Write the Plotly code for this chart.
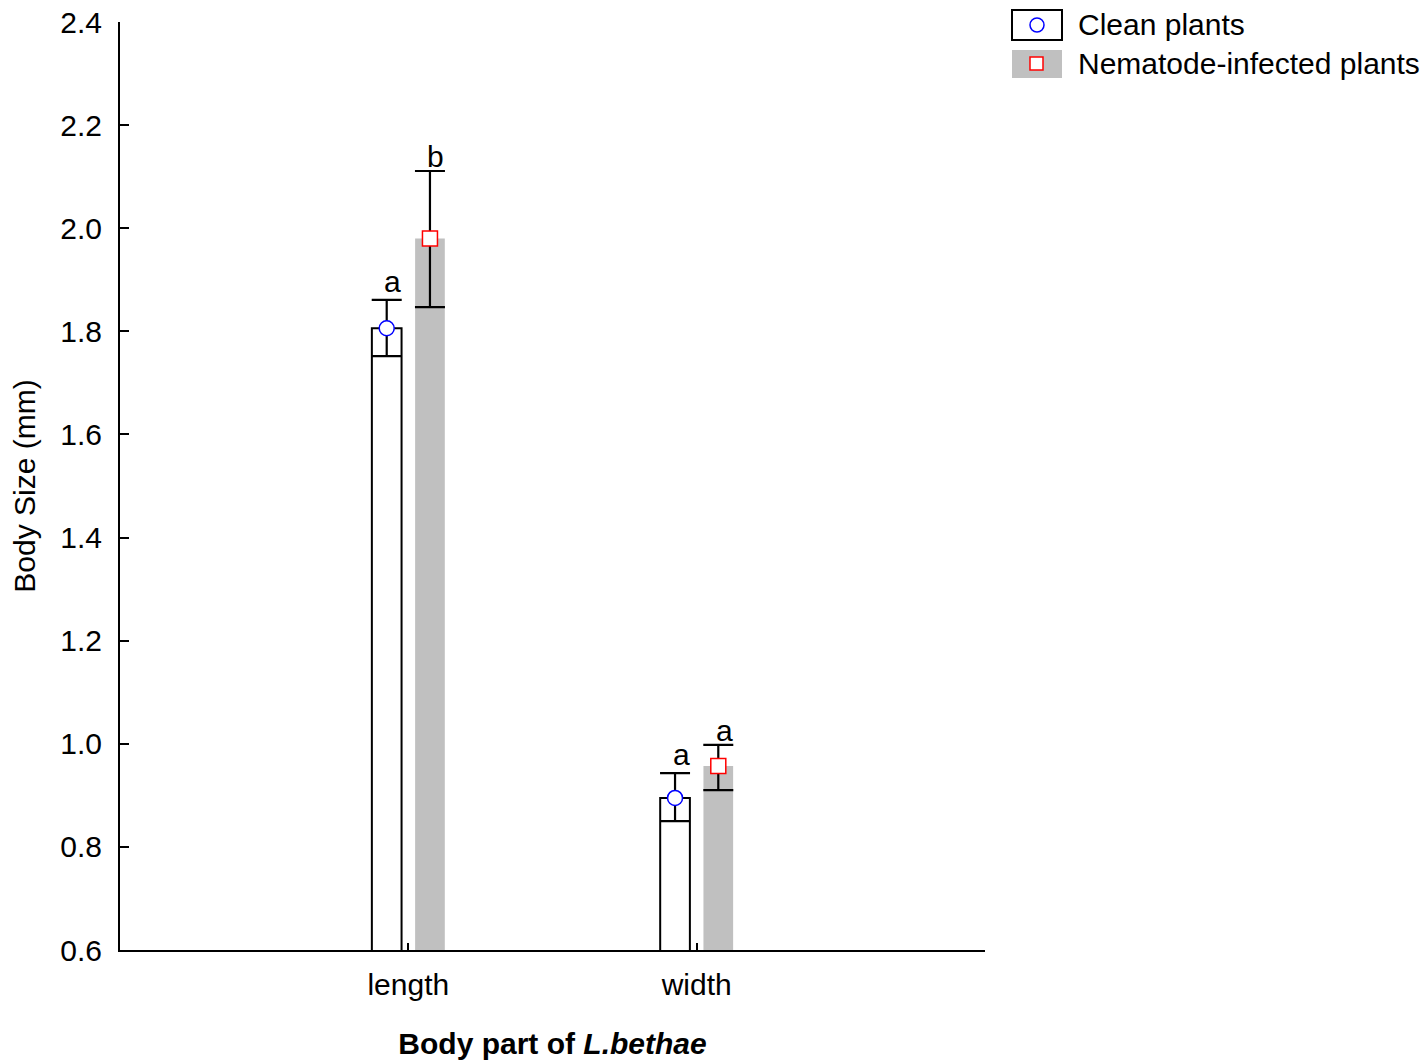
import plotly.graph_objects as go

# ---- data ----
categories = ["length", "width"]
series_names = ["Clean plants", "Nematode-infected plants"]
clean_mean = [1.806, 0.895]
clean_upper = [1.861, 0.943]
clean_lower = [1.752, 0.850]
infected_mean = [1.980, 0.957]
infected_upper = [2.111, 0.998]
infected_lower = [1.847, 0.910]
clean_letters = ["a", "a"]
infected_letters = ["b", "a"]
y_ticks = [0.6, 0.8, 1.0, 1.2, 1.4, 1.6, 1.8, 2.0, 2.2, 2.4]

FONT = "Liberation Sans, Arial, sans-serif"
FS = 30
cat_idx = list(range(len(categories)))
OFF = 0.075
BW = 0.103

series = [
    dict(name=series_names[0], mean=clean_mean, up=clean_upper, lo=clean_lower,
         letters=clean_letters, off=-OFF, fill="white", line=2, lcol="black",
         sym="circle", mcol="blue", yshift=0),
    dict(name=series_names[1], mean=infected_mean, up=infected_upper, lo=infected_lower,
         letters=infected_letters, off=OFF, fill="#c0c0c0", line=0, lcol="#c0c0c0",
         sym="square", mcol="red", yshift=-4),
]

fig = go.Figure()
for s in series:
    xs = [i + s["off"] for i in cat_idx]
    fig.add_trace(go.Bar(x=xs, y=s["mean"], width=BW, name=s["name"],
                         marker=dict(color=s["fill"], line=dict(color=s["lcol"], width=s["line"])),
                         showlegend=False))
for s in series:
    xs = [i + s["off"] for i in cat_idx]
    fig.add_trace(go.Scatter(
        x=xs, y=s["mean"], mode="markers", showlegend=False,
        marker=dict(symbol=s["sym"], size=15, color="white", line=dict(color=s["mcol"], width=1.5)),
        error_y=dict(type="data", symmetric=False,
                     array=[u - m for u, m in zip(s["up"], s["mean"])],
                     arrayminus=[m - l for m, l in zip(s["mean"], s["lo"])],
                     color="black", thickness=2.2, width=15)))
    for x, u, t in zip(xs, s["up"], s["letters"]):
        fig.add_annotation(x=x, y=u, text=t, showarrow=False, xanchor="center", yanchor="bottom",
                           xshift=6, yshift=s["yshift"], font=dict(family=FONT, size=FS, color="black"))

# manual legend
def px2paper(px, py):
    return (px - 120) / 865, (950 - py) / 928

x0, y0 = px2paper(1012, 10); x1, y1 = px2paper(1062, 40)
fig.add_shape(type="rect", xref="paper", yref="paper", x0=x0, x1=x1, y0=y1, y1=y0,
              line=dict(color="black", width=2), fillcolor="white")
x0, y0 = px2paper(1012, 50); x1, y1 = px2paper(1062, 78)
fig.add_shape(type="rect", xref="paper", yref="paper", x0=x0, x1=x1, y0=y1, y1=y0,
              line=dict(width=0), fillcolor="#c0c0c0")
cx0, cy0 = px2paper(1030, 18); cx1, cy1 = px2paper(1044, 32)
fig.add_shape(type="circle", xref="paper", yref="paper", x0=cx0, x1=cx1, y0=cy1, y1=cy0,
              line=dict(color="blue", width=1.5), fillcolor="white")
sx0, sy0 = px2paper(1030, 57); sx1, sy1 = px2paper(1043, 70)
fig.add_shape(type="rect", xref="paper", yref="paper", x0=sx0, x1=sx1, y0=sy1, y1=sy0,
              line=dict(color="red", width=1.5), fillcolor="white")
for name, py in zip(series_names, [25, 63]):
    tx, ty = px2paper(1076, py)
    fig.add_annotation(xref="paper", yref="paper", x=tx, y=ty, text=name, showarrow=False,
                       xanchor="left", yanchor="middle", font=dict(family=FONT, size=FS, color="black"))

fig.update_layout(
    width=1420, height=1062,
    margin=dict(l=120, r=435, t=22, b=112, pad=0),
    plot_bgcolor="white", paper_bgcolor="white",
    font=dict(family=FONT, size=FS, color="black"),
    barmode="overlay",
    xaxis=dict(range=[-1, 2], tickvals=[0, 1, 2], ticktext=categories + [""],
               ticks="inside", ticklen=7, tickwidth=2, tickcolor="black",
               showline=True, linecolor="black", linewidth=2, showgrid=False, zeroline=False,
               ticklabelstandoff=7,
               title=dict(text="<b>Body part of <i>L.bethae</i></b>", font=dict(size=30), standoff=33),
               automargin=False),
    yaxis=dict(range=[0.6, 2.4], tickvals=y_ticks, tickformat=".1f",
               ticks="inside", ticklen=9, tickwidth=2, tickcolor="black",
               showline=True, linecolor="black", linewidth=2, showgrid=False, zeroline=False,
               ticklabelstandoff=10,
               title=dict(text="Body Size (mm)", font=dict(size=30), standoff=16),
               automargin=False),
)

fig.write_html("out.html", config={"displayModeBar": False},
               post_script="document.body.style.margin='0';document.body.style.overflow='hidden';")
